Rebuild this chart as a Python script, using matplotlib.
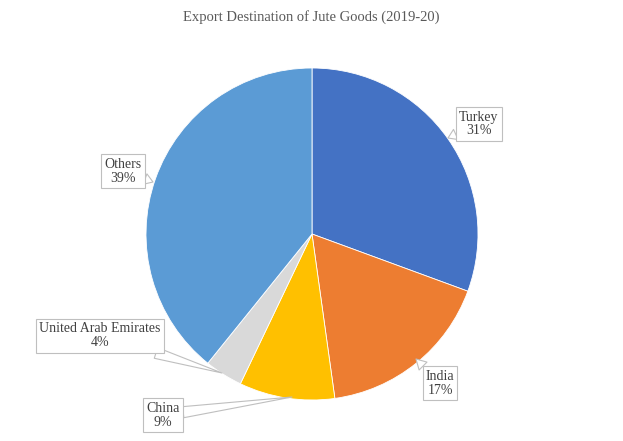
import matplotlib
matplotlib.use("Agg")
import matplotlib.pyplot as plt

# Export share by destination (percent)
countries = ["Turkey", "India", "China", "United Arab Emirates", "Others"]
shares = [30.6, 17.2, 9.3, 3.7, 39.2]
colors = ["#4472C4", "#ED7D31", "#FFC000", "#D9D9D9", "#5B9BD5"]

# label box centre and leader tip, in pixel coords (y up)
label_pos = [(479, 317), (440, 58), (163, 26), (100, 105), (123, 270)]
tip_pos = [(448, 303), (416, 82), (292, 44), (222, 68), (153, 259)]

plt.rcParams["font.family"] = ["Liberation Serif", "DejaVu Serif"]

fig = plt.figure(figsize=(6.23, 4.41), dpi=100)
ax = fig.add_axes([0, 0, 1, 1])

ax.pie(shares, colors=colors, startangle=90, counterclock=False,
       center=(312, 207), radius=166,
       wedgeprops=dict(edgecolor="white", linewidth=0.6))

ax.set_xlim(0, 623)
ax.set_ylim(0, 441)
ax.set_aspect("equal")
ax.axis("off")

for name, val, (lx, ly), (tx, ty) in zip(countries, shares, label_pos, tip_pos):
    ax.annotate(f"{name}\n{round(val)}%", xy=(tx, ty), xytext=(lx, ly),
                ha="center", va="center", fontsize=10, color="#404040",
                linespacing=1.1,
                bbox=dict(boxstyle="square,pad=0.22", fc="white", ec="#BFBFBF", lw=0.8),
                arrowprops=dict(arrowstyle="wedge,tail_width=0.8,shrink_factor=0.5",
                                fc="white", ec="#BFBFBF", lw=0.8,
                                shrinkA=0, shrinkB=0))

fig.text(0.5, 1 - 17 / 441, "Export Destination of Jute Goods (2019-20)",
         ha="center", va="center", fontsize=10.5, color="#595959")

fig.savefig("out.png", dpi=100)
